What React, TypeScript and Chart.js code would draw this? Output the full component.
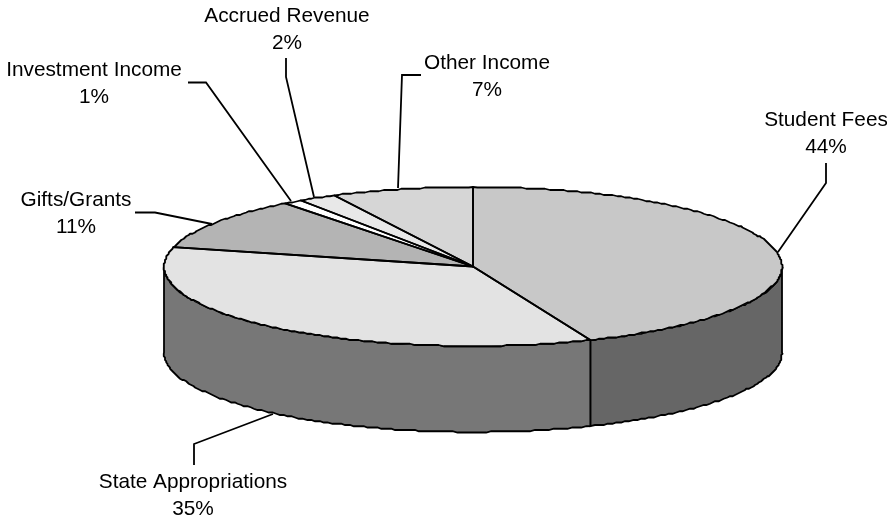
import React, { useEffect, useRef } from "react";
import { Chart, registerables } from "chart.js";

Chart.register(...registerables);

const categories = ["Student Fees", "State Appropriations", "Gifts/Grants", "Investment Income", "Accrued Revenue", "Other Income"];
const shares = [43.8, 35.1, 10.7, 1.0, 2.0, 7.4];

const topColors = ["#C8C8C8", "#E3E3E3", "#B4B4B4", "#FFFFFF", "#E8E8E8", "#D6D6D6"];
const sideColors = ["#666666", "#777777", "#5A5A5A", "#808080", "#747474", "#6B6B6B"];

const FONT = '20.8px "Liberation Sans", Arial, sans-serif';
const LINE_GAP = 27;
const SQUASH = 79.5 / 309;
const DEPTH = 86;
const EDGE_WIDTH = 1.8;
const ARC_STEP = (0.9 * Math.PI) / 180;
const SNAP = 1.25;

// label centre and leader polyline, same order as categories
const labelLayout = [
  { x: 826, y: 120, leader: [[826, 163], [826, 183], [778, 252]] },
  { x: 193, y: 482, leader: [[194, 465], [194, 444], [273, 414]] },
  { x: 76, y: 200, leader: [[135, 212.5], [155, 212.5], [212, 224]] },
  { x: 94, y: 70, leader: [[188, 82.5], [206, 82.5], [291, 201]] },
  { x: 287, y: 16, leader: [[286, 58], [286, 77], [314, 197]] },
  { x: 487, y: 63.5, leader: [[421, 75], [402, 75], [398, 188]] },
];

// the rim of the original is a slightly stepped curve: trace it on a small pixel grid
function rim(ctx: any, cx: number, cy: number, rx: number, ry: number, from: number, to: number) {
  const n = Math.max(1, Math.ceil(Math.abs(to - from) / ARC_STEP));
  for (let k = 0; k <= n; k++) {
    const t = from + ((to - from) * k) / n;
    const edge = k === 0 || k === n;
    const px = cx + rx * Math.cos(t);
    const py = cy + ry * Math.sin(t);
    ctx.lineTo(edge ? px : Math.round(px / SNAP) * SNAP, edge ? py : Math.round(py / SNAP) * SNAP);
  }
}

const pie3d = {
  id: "pie3d",
  beforeDatasetDraw(chart: any) {
    const { ctx } = chart;
    const meta = chart.getDatasetMeta(0);
    const { x: cx, y: cy, outerRadius: rx } = meta.data[0];
    const ry = rx * SQUASH;
    ctx.save();
    ctx.lineWidth = EDGE_WIDTH;
    ctx.strokeStyle = "#000";
    meta.data.forEach((arc: any, i: number) => {
      const a = Math.max(arc.startAngle, 0);
      const b = Math.min(arc.endAngle, Math.PI);
      if (b <= a) return;
      ctx.beginPath();
      rim(ctx, cx, cy, rx, ry, a, b);
      rim(ctx, cx, cy + DEPTH, rx, ry, b, a);
      ctx.closePath();
      ctx.fillStyle = sideColors[i];
      ctx.fill();
      ctx.stroke();
    });
    ctx.restore();
    ctx.save();
    ctx.translate(cx, cy);
    ctx.scale(1, SQUASH);
    ctx.translate(-cx, -cy);
  },
  afterDatasetDraw(chart: any) {
    const { ctx } = chart;
    ctx.restore();
    const meta = chart.getDatasetMeta(0);
    const { x: cx, y: cy, outerRadius: rx } = meta.data[0];
    const ry = rx * SQUASH;
    ctx.save();
    ctx.lineWidth = EDGE_WIDTH;
    ctx.strokeStyle = "#000";
    ctx.lineJoin = "round";
    meta.data.forEach((arc: any) => {
      ctx.beginPath();
      ctx.moveTo(cx, cy);
      rim(ctx, cx, cy, rx, ry, arc.startAngle, arc.endAngle);
      ctx.closePath();
      ctx.stroke();
    });
    ctx.restore();
  },
  afterDraw(chart: any) {
    const { ctx } = chart;
    const data: number[] = chart.data.datasets[0].data;
    const total = data.reduce((s, v) => s + v, 0);
    ctx.save();
    ctx.font = FONT;
    ctx.fillStyle = "#000";
    ctx.textAlign = "center";
    ctx.textBaseline = "middle";
    ctx.lineWidth = EDGE_WIDTH;
    ctx.strokeStyle = "#000";
    chart.data.labels.forEach((label: string, i: number) => {
      const l = labelLayout[i];
      ctx.fillText(label, l.x, l.y);
      ctx.fillText(`${Math.round((data[i] / total) * 100)}%`, l.x, l.y + LINE_GAP);
      ctx.beginPath();
      l.leader.forEach(([px, py], k) => (k ? ctx.lineTo(px, py) : ctx.moveTo(px, py)));
      ctx.stroke();
    });
    ctx.restore();
  },
};

export default function App() {
  const ref = useRef<HTMLCanvasElement>(null);
  useEffect(() => {
    const chart = new Chart(ref.current!, {
      type: "pie",
      data: {
        labels: categories,
        datasets: [{ data: shares, backgroundColor: topColors, borderWidth: 0 }],
      },
      options: {
        responsive: false,
        animation: false,
        radius: 309,
        layout: { padding: { left: 59, top: 12 } },
        plugins: { legend: { display: false }, tooltip: { enabled: false } },
      },
      plugins: [pie3d],
    } as any);
    return () => chart.destroy();
  }, []);
  return (
    <div style={{ position: "fixed", left: 0, top: 0, width: 887, height: 521, background: "#fff", overflow: "hidden" }}>
      <canvas ref={ref} width={887} height={521} style={{ display: "block" }} />
    </div>
  );
}
